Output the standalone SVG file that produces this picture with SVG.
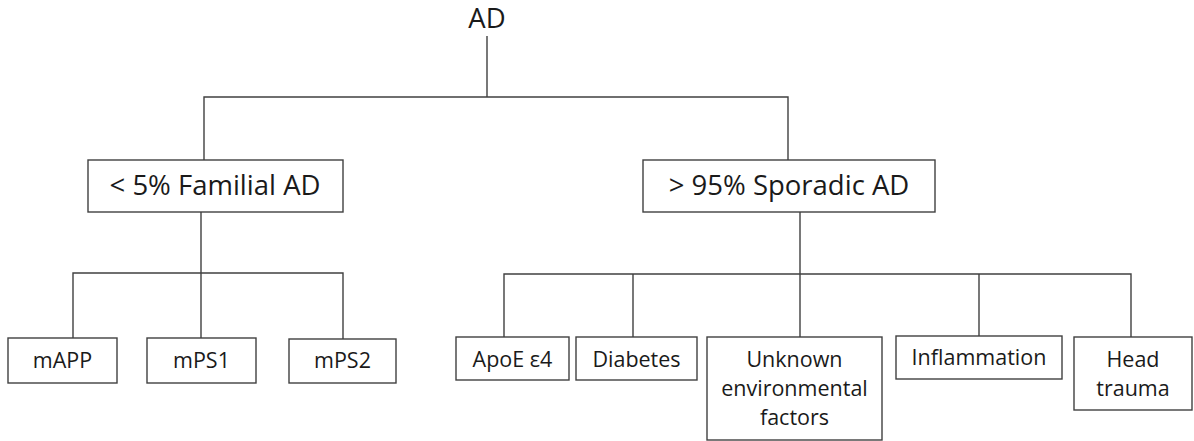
<svg xmlns="http://www.w3.org/2000/svg" width="1194" height="441" viewBox="0 0 1194 441">
<style>
.box{fill:#fff;stroke:#404040;stroke-width:1.4}
.wire{fill:none;stroke:#404040;stroke-width:1.4}
text{font-family:"Open Sans","Noto Sans",sans-serif;fill:#1a1a1a;text-anchor:middle}
.big{font-size:27.5px}
.sm{font-size:21.5px}
</style>
<rect width="1194" height="441" fill="#fff"/>
<g id="connectors">
<path class="wire" d="M487,36 V97 M204,160 V97 H788 V160"/>
<path class="wire" d="M201,212 V273 M73,338 V273 H343 V339 M201,273 V338"/>
<path class="wire" d="M800,212 V274 M504,337 V274 H1131 V337 M633,337 V274 M800,337 V274 M979,336 V274"/>
</g>
<g id="n-ad"><text class="big" x="487" y="28">AD</text></g>
<g id="n-familial"><rect class="box" x="88" y="160" width="255" height="52"/><text class="big" x="215" y="195">&lt; 5% Familial AD</text></g>
<g id="n-sporadic"><rect class="box" x="643" y="160" width="292" height="52"/><text class="big" x="789" y="195">&gt; 95% Sporadic AD</text></g>
<g id="n-mapp"><rect class="box" x="8" y="338" width="109" height="45"/><text class="sm" x="62.5" y="368">mAPP</text></g>
<g id="n-mps1"><rect class="box" x="147" y="338" width="109" height="45"/><text class="sm" x="201.5" y="368">mPS1</text></g>
<g id="n-mps2"><rect class="box" x="289" y="339" width="107" height="44"/><text class="sm" x="342.5" y="368">mPS2</text></g>
<g id="n-apoe"><rect class="box" x="456" y="337" width="113" height="43"/><text class="sm" x="512.5" y="367">ApoE ε4</text></g>
<g id="n-diabetes"><rect class="box" x="576" y="337" width="121" height="43"/><text class="sm" x="636.5" y="367">Diabetes</text></g>
<g id="n-unknown"><rect class="box" x="707" y="337" width="175" height="103"/><text class="sm" x="794.5" y="367">Unknown</text><text class="sm" x="794.5" y="396">environmental</text><text class="sm" x="794.5" y="425">factors</text></g>
<g id="n-inflammation"><rect class="box" x="896" y="336" width="166" height="43"/><text class="sm" x="979" y="365">Inflammation</text></g>
<g id="n-head"><rect class="box" x="1074" y="337" width="118" height="73"/><text class="sm" x="1133" y="367">Head</text><text class="sm" x="1133" y="396">trauma</text></g>
</svg>
